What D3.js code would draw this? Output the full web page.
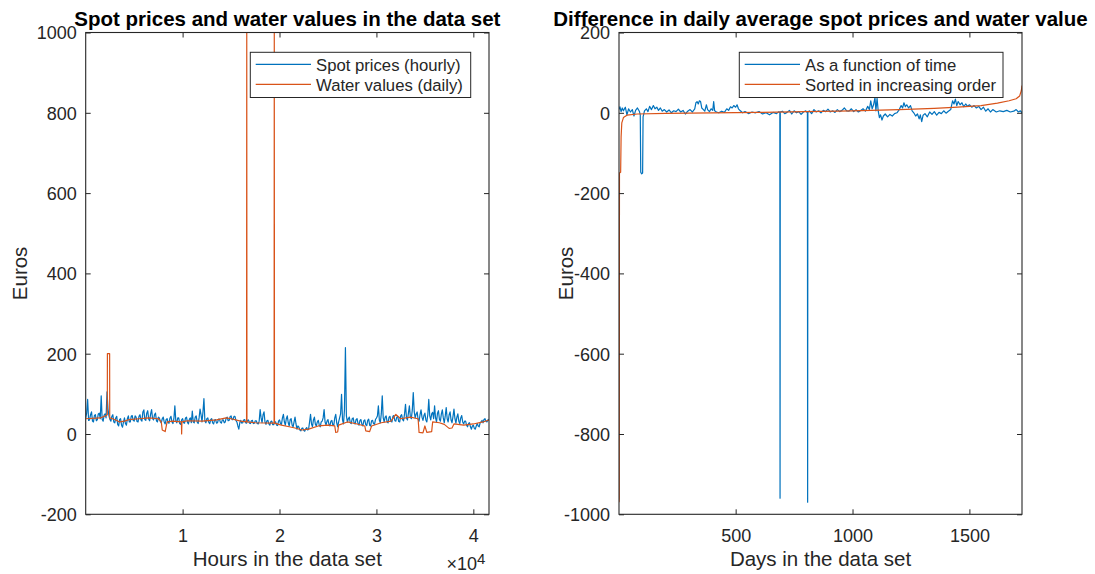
<!DOCTYPE html>
<html>
<head>
<meta charset="utf-8">
<script src="https://cdn.jsdelivr.net/npm/d3@7"></script>
<style>
  html, body { margin: 0; padding: 0; background: #fff; }
  svg { display: block; font-family: "Liberation Sans", Arial, Helvetica, sans-serif; }
</style>
</head>
<body>
<svg id="chart" width="1095" height="574"></svg>
<script>
// ---------------------------------------------------------------------------
// Data
// ---------------------------------------------------------------------------

// Hourly spot prices (EUR), one reading every 100 hours starting at hour 1.
const spotSampleEvery = 100;
const spotPrices = [
  40, 52, 86, 34, 35, 48, 55, 32, 30, 46,
  48, 33, 36, 50, 52, 38, 95, 36, 32, 47,
  50, 40, 105, 62, 45, 36, 32, 44, 48, 30,
  28, 40, 44, 24, 20, 36, 38, 22, 17, 30,
  40, 26, 22, 38, 45, 30, 30, 44, 46, 34,
  32, 45, 42, 31, 30, 44, 48, 35, 32, 55,
  60, 36, 34, 52, 58, 37, 33, 50, 61, 38,
  35, 48, 52, 33, 30, 42, 40, 31, 28, 38,
  42, 30, 25, 36, 38, 28, 27, 40, 44, 30,
  26, 38, 70, 32, 28, 40, 40, 26, 24, 35,
  38, 28, 27, 40, 42, 29, 25, 37, 40, 28,
  57, 30, 28, 42, 45, 30, 26, 40, 62, 48,
  30, 55, 88, 32, 28, 38, 40, 29, 26, 36,
  38, 28, 25, 35, 36, 27, 28, 37, 37, 29,
  27, 35, 35, 28, 30, 40, 42, 33, 34, 43,
  45, 36, 36, 44, 44, 34, 30, 20, 12, 28,
  34, 27, 28, 35, 36, 28, 27, 34, 35, 27,
  26, 33, 34, 26, 27, 33, 33, 26, 25, 32,
  61, 40, 28, 48, 55, 30, 24, 33, 34, 25,
  22, 31, 32, 23, 23, 30, 30, 22, 21, 32,
  35, 26, 24, 40, 49, 30, 22, 38, 45, 28,
  20, 36, 38, 22, 18, 30, 42, 25, 12, 20,
  17, 10, 8, 14, 15, 9, 7, 13, 16, 10,
  12, 30, 49, 25, 18, 35, 42, 24, 20, 30,
  34, 22, 18, 30, 32, 40, 61, 30, 22, 32,
  36, 24, 20, 32, 34, 22, 22, 40, 49, 28,
  18, 30, 40, 50, 99, 35, 25, 60, 215, 45,
  30, 38, 42, 28, 26, 38, 40, 27, 25, 36,
  38, 26, 22, 34, 36, 24, 20, 33, 35, 23,
  21, 34, 37, 22, 20, 33, 34, 26, 24, 36,
  40, 45, 70, 35, 28, 50, 95, 40, 30, 42,
  45, 30, 28, 42, 44, 31, 30, 44, 46, 33,
  32, 42, 44, 31, 30, 45, 48, 36, 33, 50,
  74, 40, 35, 52, 70, 42, 38, 60, 103, 55,
  40, 50, 55, 36, 32, 48, 60, 42, 34, 46,
  52, 35, 30, 48, 86, 45, 35, 50, 54, 38,
  70, 40, 30, 52, 58, 36, 32, 50, 60, 40,
  28, 45, 66, 38, 30, 48, 55, 35, 28, 44,
  62, 38, 27, 42, 50, 32, 26, 40, 46, 30,
  25, 32, 32, 22, 18, 26, 28, 18, 12, 20,
  22, 14, 12, 20, 26, 20, 18, 28, 30, 34,
  28, 36, 38, 32, 30, 35, 37
];

// Daily water values (EUR) placed on the hour axis: [hour, value].
const waterValues = [
  [1, 38], [1500, 40], [2000, 45], [2230, 48], [2240, 200], [2470, 200], [2480, 40],
  [3000, 36], [3500, 30], [4000, 32], [4500, 36], [5500, 38], [6500, 40], [7500, 38],
  [7800, 30], [7900, 10], [8200, 6], [8400, 30], [9000, 32], [9880, 30], [9900, 0],
  [9930, 30], [10500, 33], [12000, 32], [13500, 35], [14500, 40], [15000, 38],
  [16000, 32], [16600, 30], [16620, 1005], [16640, 30], [17500, 28], [19440, 27],
  [19460, 1005], [19480, 27], [20200, 22], [21000, 18], [21600, 15], [22300, 10],
  [23000, 12], [24000, 20], [25000, 22], [25700, 20], [25800, 4], [26000, 5],
  [26100, 22], [27000, 30], [28000, 25], [28800, 20], [28900, 8], [29300, 6],
  [29500, 20], [30500, 28], [31500, 32], [32000, 49], [32500, 38], [33500, 42],
  [34300, 38], [34400, 4], [34800, 3], [35000, 20], [35200, 4], [35700, 6],
  [35800, 30], [36500, 28], [37000, 24], [37500, 14], [37800, 15], [38000, 25],
  [39000, 22], [40000, 25], [41000, 30], [41616, 35]
];

// Daily average spot price minus water value, in time order: [day, difference].
const diffByTime = [
  [1, 8], [5, 15], [10, 3], [15, 12], [20, 5], [28, 14], [35, -5], [42, 10], [50, 2],
  [58, 8], [65, -8], [72, 6], [80, 12], [88, 4], [92, -5], [94, -148], [98, -152],
  [102, -150], [104, -10], [110, 5], [118, 10], [125, 3], [132, 16], [140, 8],
  [148, 18], [155, 10], [163, 14], [170, 6], [178, 12], [186, 4], [195, 8], [205, 2],
  [215, 7], [225, 0], [235, 5], [245, 3], [255, 9], [265, 2], [275, 6], [285, -3],
  [295, 4], [305, 8], [315, 2], [325, 10], [330, 25], [335, 28], [340, 22], [345, 30],
  [350, 28], [355, 12], [362, 8], [368, 4], [375, 20], [380, 8], [388, 3], [395, 10],
  [402, 6], [406, 28], [410, 5], [418, 2], [428, 0], [440, 4], [452, 1], [462, 10],
  [470, 6], [478, 15], [485, 12], [492, 18], [500, 14], [506, 20], [512, 10],
  [520, 5], [530, 0], [540, 3], [555, -2], [570, 2], [585, 0], [600, 3], [615, -3],
  [630, 0], [645, -5], [660, 1], [675, -2], [685, 3], [689, 0], [690, -960], [691, 2],
  [700, 4], [710, -2], [720, 1], [730, 6], [740, -3], [750, 5], [760, 0], [770, 3],
  [780, -4], [790, 2], [800, 5], [807, 0], [808, -970], [809, 1], [815, 5],
  [825, -2], [835, 8], [845, 2], [855, 5], [865, 0], [875, 6], [885, 3], [895, 9],
  [905, 2], [915, 5], [925, 1], [935, 8], [945, 3], [955, 6], [965, 12], [975, 5],
  [985, 4], [995, 10], [1005, 3], [1015, 8], [1025, 2], [1035, 6], [1045, 10],
  [1055, 4], [1065, 16], [1072, 8], [1078, 30], [1084, 10], [1090, 20], [1096, 38],
  [1100, 5], [1105, 36], [1110, 4], [1115, -12], [1120, -5], [1126, -18], [1132, -8],
  [1140, -3], [1150, -10], [1160, -4], [1170, -8], [1180, -2], [1190, 0], [1200, 8],
  [1208, 18], [1214, 12], [1220, 25], [1226, 15], [1232, 20], [1240, 12], [1248, 18],
  [1255, 5], [1262, 0], [1270, -8], [1278, -3], [1285, -15], [1290, -5], [1296, -22],
  [1302, -6], [1310, -2], [1320, -10], [1330, 2], [1340, -4], [1350, 3], [1360, -6],
  [1370, 1], [1380, -2], [1390, 5], [1400, -1], [1410, 4], [1420, 8], [1428, 30],
  [1434, 22], [1440, 34], [1446, 18], [1452, 28], [1460, 20], [1468, 25], [1476, 15],
  [1484, 22], [1492, 16], [1500, 20], [1510, 14], [1520, 18], [1530, 12], [1540, 16],
  [1550, 8], [1560, 14], [1570, 4], [1580, 10], [1590, 2], [1600, 8], [1615, 2],
  [1630, 5], [1645, 3], [1660, 6], [1675, 2], [1690, 4], [1700, 8], [1710, 2],
  [1718, 5], [1725, 0]
];

// The same differences sorted in increasing order: [rank, difference].
const diffSorted = [
  [1, -970], [2, -960], [3, -150], [8, -148], [10, -60], [13, -25], [20, -12],
  [35, -6], [80, -3], [200, -1.5], [400, 0], [600, 1], [800, 3], [1000, 5],
  [1200, 8], [1350, 11], [1450, 14], [1550, 18], [1620, 24], [1670, 30],
  [1700, 35], [1715, 42], [1722, 55], [1725, 68]
];

// Axis ticks
const leftXTicks = [10000, 20000, 30000, 40000];
const leftYTicks = [-200, 0, 200, 400, 600, 800, 1000];
const rightXTicks = [500, 1000, 1500];
const rightYTicks = [-1000, -800, -600, -400, -200, 0, 200];

// Text
const leftTitle = "Spot prices and water values in the data set";
const rightTitle = "Difference in daily average spot prices and water value";
const leftXLabel = "Hours in the data set";
const rightXLabel = "Days in the data set";
const yLabel = "Euros";
const leftLegend = ["Spot prices (hourly)", "Water values (daily)"];
const rightLegend = ["As a function of time", "Sorted in increasing order"];

// ---------------------------------------------------------------------------
// Drawing
// ---------------------------------------------------------------------------
const INK = "#262626";
const BLUE = "#0072BD";
const ORANGE = "#D95319";
const TICK_FONT = 18;
const LABEL_FONT = 20.5;
const LEGEND_FONT = 16.7;

const svg = d3.select("#chart");

const spotSeries = spotPrices.map((v, i) => [1 + i * spotSampleEvery, v]);
const plainNumber = d => String(d);

function drawPanel(cfg) {
  const { x, y } = cfg;
  const [x0, x1] = x.range();
  const [y0, y1] = y.range(); // y0 bottom, y1 top
  const g = svg.append("g");

  svg.append("clipPath").attr("id", cfg.id)
    .append("rect")
    .attr("x", x0).attr("y", y1)
    .attr("width", x1 - x0).attr("height", y0 - y1);

  const line = d3.line().x(d => x(d[0])).y(d => y(d[1]));
  cfg.series.forEach(s => {
    g.append("path")
      .datum(s.data)
      .attr("clip-path", `url(#${cfg.id})`)
      .attr("fill", "none")
      .attr("stroke", s.color)
      .attr("stroke-width", 1.2)
      .attr("stroke-linejoin", "round")
      .attr("d", line);
  });

  // Axes with inward ticks on all four sides
  const styleAxis = sel => {
    sel.select(".domain").remove();
    sel.selectAll(".tick line").attr("stroke", INK).attr("stroke-width", 1);
    sel.selectAll(".tick text")
      .attr("fill", INK)
      .style("font-size", TICK_FONT + "px")
      .style("font-family", '"Liberation Sans", Arial, Helvetica, sans-serif');
  };

  g.append("g").attr("transform", `translate(0,${y0})`)
    .call(d3.axisBottom(x).tickValues(cfg.xTicks).tickFormat(cfg.xFormat)
      .tickSizeInner(-5).tickSizeOuter(0).tickPadding(14.6))
    .call(styleAxis);
  g.append("g").attr("transform", `translate(0,${y1})`)
    .call(d3.axisTop(x).tickValues(cfg.xTicks).tickFormat("")
      .tickSizeInner(-5).tickSizeOuter(0))
    .call(styleAxis);
  g.append("g").attr("transform", `translate(${x0},0)`)
    .call(d3.axisLeft(y).tickValues(cfg.yTicks).tickFormat(plainNumber)
      .tickSizeInner(-5).tickSizeOuter(0).tickPadding(9))
    .call(styleAxis)
    .call(s => s.selectAll(".tick text").attr("dy", "0.36em"));
  g.append("g").attr("transform", `translate(${x1},0)`)
    .call(d3.axisRight(y).tickValues(cfg.yTicks).tickFormat("")
      .tickSizeInner(-5).tickSizeOuter(0))
    .call(styleAxis);

  // Frame
  g.append("rect")
    .attr("x", x0).attr("y", y1)
    .attr("width", x1 - x0).attr("height", y0 - y1)
    .attr("fill", "none").attr("stroke", INK).attr("stroke-width", 1.1);

  const cx = (x0 + x1) / 2;
  const cy = (y0 + y1) / 2;

  // Title
  g.append("text")
    .attr("x", cx).attr("y", 25.5)
    .attr("text-anchor", "middle")
    .attr("font-weight", "bold")
    .attr("font-size", LABEL_FONT)
    .attr("fill", "#000")
    .text(cfg.title);

  // Axis labels
  g.append("text")
    .attr("x", cx).attr("y", 566)
    .attr("text-anchor", "middle")
    .attr("font-size", LABEL_FONT)
    .attr("fill", INK)
    .text(cfg.xLabel);
  g.append("text")
    .attr("transform", `translate(${cfg.yLabelX},${cy}) rotate(-90)`)
    .attr("text-anchor", "middle")
    .attr("font-size", LABEL_FONT)
    .attr("fill", INK)
    .text(yLabel);

  // Legend
  const lg = g.append("g");
  lg.append("rect")
    .attr("x", cfg.legend.x).attr("y", 52.3)
    .attr("width", cfg.legend.w).attr("height", 45.2)
    .attr("fill", "#fff").attr("stroke", INK).attr("stroke-width", 1);
  cfg.series.forEach((s, i) => {
    const ly = 64.3 + i * 20;
    lg.append("line")
      .attr("x1", cfg.legend.x + 5.4).attr("x2", cfg.legend.x + 60.7)
      .attr("y1", ly).attr("y2", ly)
      .attr("stroke", s.color).attr("stroke-width", 1.2);
    lg.append("text")
      .attr("x", cfg.legend.x + 65.7).attr("y", ly + 6.2)
      .attr("font-size", LEGEND_FONT)
      .attr("fill", INK)
      .text(s.name);
  });

  return g;
}

// Left panel: hourly spot prices and daily water values
const xLeft = d3.scaleLinear().domain([1, 41616]).range([85.7, 489]);
const yLeft = d3.scaleLinear().domain([-200, 1000]).range([514.3, 32.5]);
const left = drawPanel({
  id: "clip-left",
  x: xLeft, y: yLeft,
  xTicks: leftXTicks, yTicks: leftYTicks,
  xFormat: d => String(d / 10000),
  title: leftTitle, xLabel: leftXLabel, yLabelX: 27,
  legend: { x: 250.3, w: 220.4 },
  series: [
    { name: leftLegend[0], data: spotSeries, color: BLUE },
    { name: leftLegend[1], data: waterValues, color: ORANGE }
  ]
});

// Exponent of the hour axis
const expo = left.append("text")
  .attr("x", 446.5).attr("y", 569.5)
  .attr("font-size", TICK_FONT)
  .attr("fill", INK);
expo.append("tspan").text("\u00d710");
expo.append("tspan").attr("dy", -5.5).attr("font-size", 15).text("4");

// Right panel: daily differences, in time order and sorted
const xRight = d3.scaleLinear().domain([1, 1725]).range([619, 1022]);
const yRight = d3.scaleLinear().domain([-1000, 200]).range([514.3, 32.5]);
drawPanel({
  id: "clip-right",
  x: xRight, y: yRight,
  xTicks: rightXTicks, yTicks: rightYTicks,
  xFormat: plainNumber,
  title: rightTitle, xLabel: rightXLabel, yLabelX: 573,
  legend: { x: 739.3, w: 263.7 },
  series: [
    { name: rightLegend[0], data: diffByTime, color: BLUE },
    { name: rightLegend[1], data: diffSorted, color: ORANGE }
  ]
});
</script>
</body>
</html>
